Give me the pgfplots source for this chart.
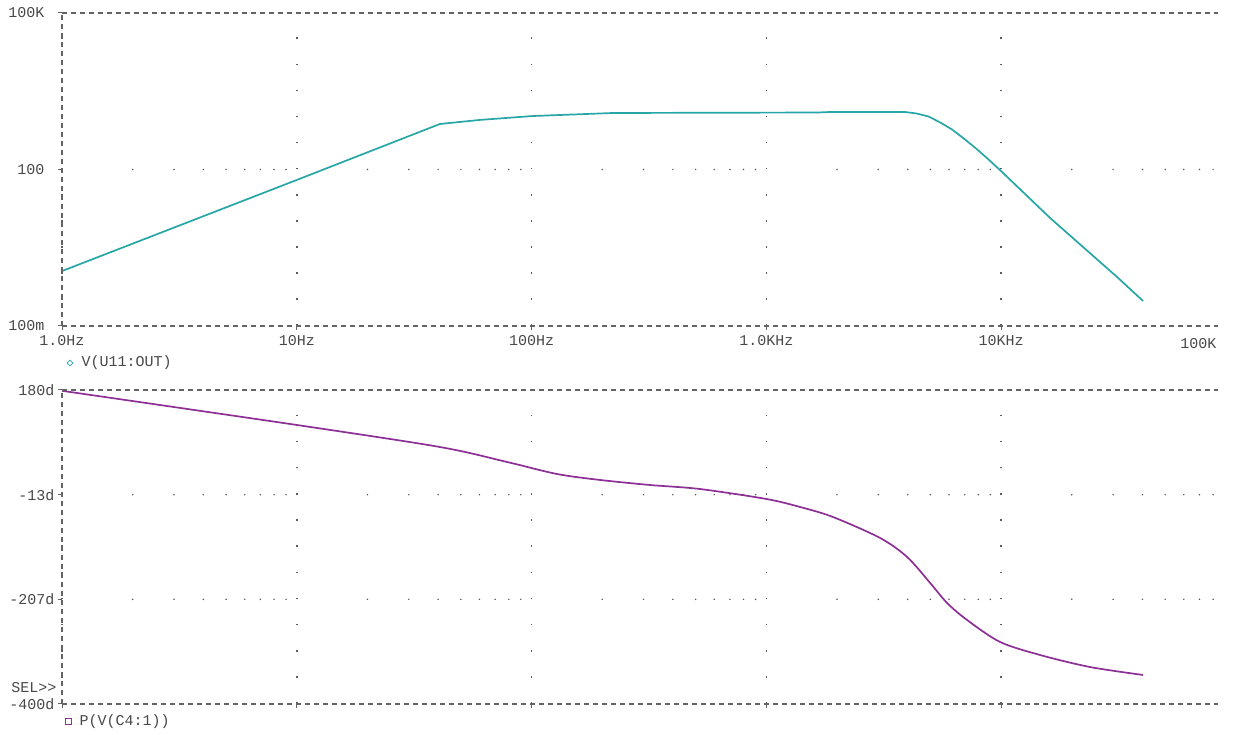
\documentclass[border=0pt]{standalone}
\usepackage{fontspec}
\usepackage{pgfplots}
\pgfplotsset{compat=1.18}
\usetikzlibrary{shapes.geometric}

\newfontfamily\psfont{Liberation Mono}
\newcommand\labfont{\psfont\fontsize{15}{18}\selectfont}

\definecolor{trace1}{RGB}{38,166,166}
\definecolor{trace2}{RGB}{140,48,150}
\definecolor{framec}{RGB}{100,100,100}
\definecolor{ink}{RGB}{72,72,72}
\definecolor{dotc}{RGB}{90,90,90}

\tikzset{frameline/.style={draw=framec, line width=1.3pt, dash pattern=on 5pt off 4pt}}

% dotted horizontal grid: one dot at every minor x position
\newcommand\griddots[1]{%
  \pgfplotsforeachungrouped \gdec in {0,1,2,3}{%
    \pgfplotsforeachungrouped \gmul in {2,3,4,5,6,7,8,9}{%
      \edef\gdtmp{\noexpand\fill[dotc] (axis cs:\gmul e\gdec,#1) circle[radius=0.85pt];}\gdtmp
    }}%
  \pgfplotsforeachungrouped \gmul in {2,3,4,5,6,7,8}{%
    \edef\gdtmp{\noexpand\fill[dotc] (axis cs:\gmul e4,#1) circle[radius=0.85pt];}\gdtmp
  }%
}

\begin{document}
\begin{tikzpicture}[x=1pt,y=1pt]
\path[use as bounding box] (0,0) rectangle (1236,735);

% ---- magnitude ----
\begin{axis}[
  scale only axis, width=1156pt, height=313pt,
  at={(62pt,409pt)}, anchor=south west,
  xmode=log, xmin=1, xmax=83950,
  ymode=log, ymin=0.1, ymax=1e5,
  axis line style={draw=none},
  tick pos=left, tick align=outside,
  major tick length=4pt, minor tick length=0pt,
  tick style={draw=framec, line width=1pt},
  xtick={1,10,100,1000,10000},
  xticklabels={1.0Hz,10Hz,100Hz,1.0KHz,10KHz},
  ytick={0.1,100,1e5}, yticklabels={100m,100,100K},
  ticklabel style={font=\labfont, text=ink},
  yticklabel style={xshift=-10pt},
  xticklabel style={yshift=-2pt},
  xmajorgrids,
  major grid style={draw=dotc, line width=1.6pt, dash pattern=on 1.6pt off 24.483pt},
  clip=false,
]
\griddots{100}
\addplot[trace1, line width=1.7pt, line join=round] coordinates {
  (1,1.13) (10,63.0) (40.7,745) (60,890) (80,980) (101,1059) (222,1211)
  (1000,1230) (1644,1235) (1862,1265) (3899,1265) (4375,1183) (4909,1037)
  (5508,796) (6180,585) (6934,393) (7780,258) (8730,164) (10093,89.5)
  (16180,11.75) (31190,0.869) (40270,0.301)
};
\draw[frameline] (rel axis cs:0,0) -- (rel axis cs:1,0);
\draw[frameline] (rel axis cs:0,1) -- (rel axis cs:1,1);
\draw[frameline] (rel axis cs:0,0) -- (rel axis cs:0,1);
\end{axis}

% ---- phase ----
\begin{axis}[
  scale only axis, width=1156pt, height=314pt,
  at={(62pt,31pt)}, anchor=south west,
  xmode=log, xmin=1, xmax=83950,
  ymin=-400, ymax=180,
  axis line style={draw=none},
  tick pos=left, tick align=outside,
  major tick length=4pt, minor tick length=0pt,
  tick style={draw=framec, line width=1pt},
  xtick={1,10,100,1000,10000}, xticklabels={},
  ytick={180,-13.3333,-206.6667,-400}, yticklabels={180d,-13d,-207d,-400d},
  ticklabel style={font=\labfont, text=ink},
  xmajorgrids,
  major grid style={draw=dotc, line width=1.6pt, dash pattern=on 1.6pt off 24.567pt},
  clip=false,
]
\griddots{-13.3333}
\griddots{-206.6667}
\addplot[trace2, line width=1.7pt, smooth, tension=0.5] coordinates {
  (1,178.5) (10,115.4) (40.7,74.7) (78.7,47.0) (128.5,24.8) (196,13.8)
  (320,4.5) (522,-2.9) (1000,-21.3) (1393,-36.1) (1923,-54.6)
  (3055,-93.4) (3981,-128.5) (4989,-176.5) (5888,-213.4) (7161,-244.8)
  (9908,-285.5) (14660,-309.5) (23930,-331.7) (40270,-346.4)
};
\draw[frameline] (rel axis cs:0,0) -- (rel axis cs:1,0);
\draw[frameline] (rel axis cs:0,1) -- (rel axis cs:1,1);
\draw[frameline] (rel axis cs:0,0) -- (rel axis cs:0,1);
\end{axis}

% labels outside the axes
\node[font=\labfont, text=ink, anchor=east] at (1220,391) {100K};
\node[draw=trace1, diamond, inner sep=0pt, minimum size=6pt, line width=0.8pt] at (70,372) {};
\node[font=\labfont, text=ink, anchor=west] at (78,372) {V(U11:OUT)};
\node[draw=trace2, rectangle, inner sep=0pt, minimum size=6pt, line width=1pt] at (68,13) {};
\node[font=\labfont, text=ink, anchor=west] at (76,13) {P(V(C4:1))};
\node[font=\labfont, text=ink, anchor=east] at (60,47) {SEL>{}>};
\end{tikzpicture}
\end{document}
